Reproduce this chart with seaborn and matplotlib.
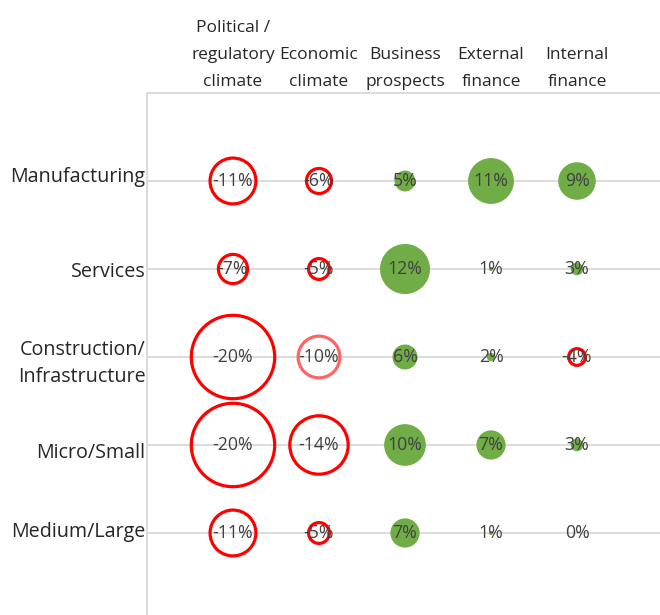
import numpy as np
import pandas as pd
import seaborn as sns
import matplotlib
matplotlib.use("Agg")
import matplotlib.pyplot as plt
from matplotlib.transforms import ScaledTranslation

# ---- data ----
rows = ["Manufacturing", "Services", "Construction/\nInfrastructure", "Micro/Small", "Medium/Large"]
cols = ["Political /\nregulatory\nclimate", "Economic\nclimate", "Business\nprospects",
        "External\nfinance", "Internal\nfinance"]
political = [-11, -7, -20, -20, -11]
economic = [-6, -5, -10, -14, -5]
business = [5, 12, 6, 10, 7]
external = [11, 1, 2, 7, 1]
internal = [9, 3, -4, 3, 0]
highlight = ("Construction/\nInfrastructure", "Economic\nclimate")

# styling: vertical nudge of row labels (px, down positive)
row_label_nudge = [-7, 0, 0, 5, -4]

series = [political, economic, business, external, internal]
recs = []
for ci, (c, vals) in enumerate(zip(cols, series)):
    for ri, (r, v) in enumerate(zip(rows, vals)):
        recs.append(dict(row=r, col=c, x=ci, y=ri, value=v, area=float(v * v)))
df = pd.DataFrame(recs)

sns.set_theme(style="white")
plt.rcParams["font.family"] = ["Open Sans", "DejaVu Sans"]

W, H = 660, 615
fig = plt.figure(figsize=(W / 100, H / 100), dpi=100)
ax = fig.add_axes([147 / W, 1 - 621 / H, 516 / W, 528 / H])

px_per_unit = 4.17  # bubble diameter in px per percentage point
max_area = 400.0
smax = (px_per_unit * 20 * 0.72) ** 2

pos = df[df.value > 0]
neg = df[(df.value < 0)]
is_hl = (neg.row == highlight[0]) & (neg.col == highlight[1])
neg_main = neg[~is_hl]
neg_hl = neg[is_hl]

sns.scatterplot(data=pos, x="x", y="y", size="area", sizes=(0, smax), size_norm=(0, max_area),
                color="#70AD47", edgecolor="none", linewidth=0, legend=False, ax=ax, zorder=3)
sns.scatterplot(data=neg_main, x="x", y="y", size="area", sizes=(0, smax), size_norm=(0, max_area),
                facecolor="none", edgecolor="#FF0000", linewidth=2.3, legend=False, ax=ax, zorder=3)
sns.scatterplot(data=neg_hl, x="x", y="y", size="area", sizes=(0, smax), size_norm=(0, max_area),
                facecolor="none", edgecolor="#FF6464", linewidth=2.3, legend=False, ax=ax, zorder=3)

for _, r in df.iterrows():
    ax.text(r.x, r.y, f"{int(r.value)}%", ha="center", va="center", fontsize=12.8,
            color="#404040", zorder=4)

ax.set_xlim(-1, 5)
ax.set_ylim(5, -1)

gridc = "#D9D9D9"
ax.set_xticks(range(5), labels=cols)
ax.xaxis.tick_top()
ax.set_xticks([-1, 1, 3, 5], minor=True)
ax.set_yticks(range(5), labels=rows)
ax.tick_params(axis="both", which="both", length=0)
ax.tick_params(axis="x", which="major", pad=2.5, labelsize=12.5, labelcolor="#262626")
ax.tick_params(axis="y", which="major", pad=1, labelsize=14.2, labelcolor="#262626")
for t in ax.get_xticklabels():
    t.set_linespacing(1.88)
for t, dy in zip(ax.get_yticklabels(), row_label_nudge):
    t.set_linespacing(1.5)
    t.set_transform(t.get_transform() + ScaledTranslation(0, -dy / 100, fig.dpi_scale_trans))
ax.grid(False)
ax.grid(True, which="minor", axis="x", color=gridc, linewidth=1.3, zorder=0)
ax.grid(True, which="major", axis="y", color=gridc, linewidth=1.3, zorder=0)
ax.set_axisbelow(True)
ax.set_xlabel("")
ax.set_ylabel("")
for s in ["right", "bottom"]:
    ax.spines[s].set_visible(False)
for s in ["left", "top"]:
    ax.spines[s].set_color(gridc)
    ax.spines[s].set_linewidth(1.3)

fig.savefig("out.png", dpi=100)
